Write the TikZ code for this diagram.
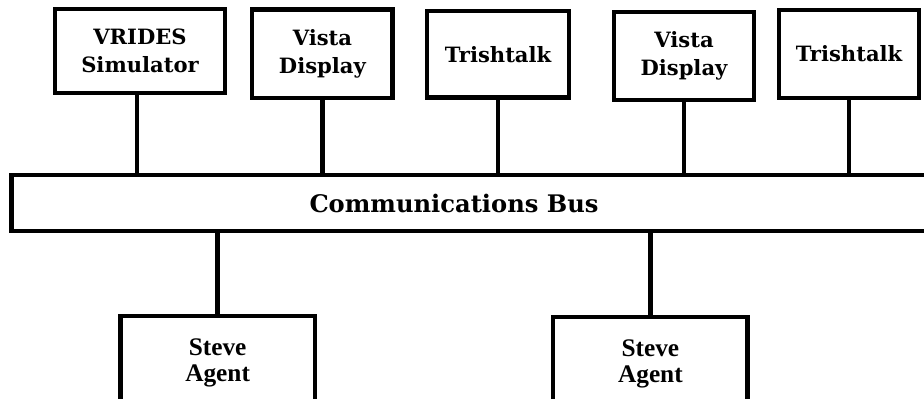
\documentclass[tikz,border=0pt]{standalone}
\usepackage{fontspec}
\setmainfont{DejaVu Serif}
\newfontfamily\agentfont{Liberation Serif}

\begin{document}
\begin{tikzpicture}[line cap=rect,line width=3.2pt,
	toolbox/.style={draw, align=center, inner sep=0pt,
		font=\fontsize{15}{20}\selectfont\bfseries},
	agentbox/.style={draw, align=center, inner sep=0pt,
		minimum width=48.6mm, minimum height=23.5mm,
		font=\agentfont\fontsize{18}{18.5}\selectfont\bfseries},
	busbox/.style={draw, minimum width=237.1mm, minimum height=13.9mm}]

% page frame
\clip (0,0) rectangle (231mm,99.5mm);

% Tools on top
\node[toolbox, minimum width=42.4mm, minimum height=20.9mm] (vrides) at (35mm,86.75mm) {VRIDES\\Simulator};
\node[toolbox, minimum width=35.1mm, minimum height=22.1mm] (vista1) at (80.6mm,86.1mm) {Vista\\Display};
\node[toolbox, minimum width=35.4mm, minimum height=21.6mm] (trish1) at (124.5mm,85.9mm) {Trishtalk};
\node[toolbox, minimum width=34.9mm, minimum height=21.9mm] (vista2) at (171mm,85.5mm) {Vista\\Display};
\node[toolbox, minimum width=34.9mm, minimum height=21.9mm] (trish2) at (212.25mm,86mm) {Trishtalk};

% Communications bus
\node[busbox] (bus) at (121.4mm,48.75mm) {};
\node[font=\fontsize{17.2}{20}\selectfont\bfseries] (buslabel) at (113.5mm,48.75mm) {Communications Bus};

% Agents below
\node[agentbox] (agent1) at (54.4mm,8.75mm) {Steve\\Agent};
\node[agentbox] (agent2) at (162.6mm,8.5mm) {Steve\\Agent};

% Links to the bus
\draw ([xshift=-0.75mm]vrides.south) -- ([xshift=-0.75mm]vrides.south |- bus.north);
\foreach \tool in {vista1,trish1,vista2,trish2}
{
	\draw (\tool.south) -- (\tool.south |- bus.north);
}
\foreach \agent in {agent1,agent2}
{
	\draw (\agent.north) -- (\agent.north |- bus.south);
}

\end{tikzpicture}
\end{document}
